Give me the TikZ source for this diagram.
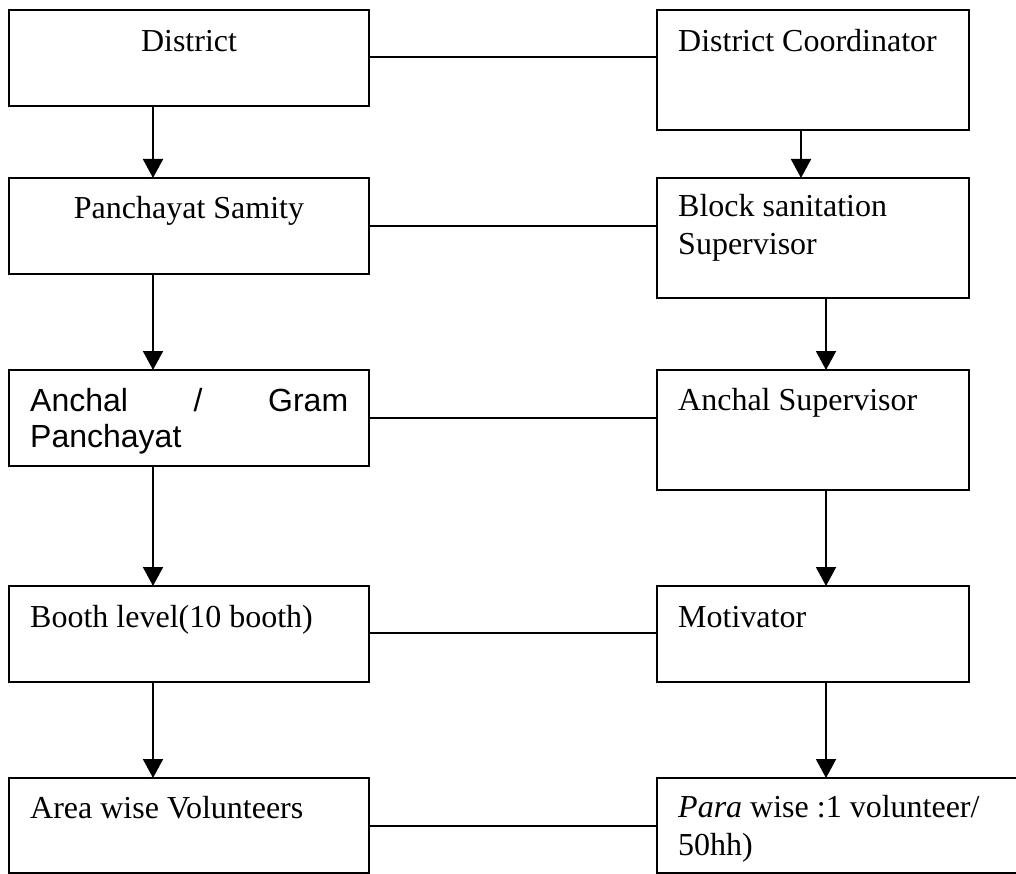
\documentclass[tikz,border=0pt]{standalone}
\usepackage{fontspec}
\setmainfont{Liberation Serif}
\newfontfamily\arialfont{Liberation Sans}
\usetikzlibrary{arrows.meta}
\begin{document}
\begin{tikzpicture}[x=1pt,y=-1pt,
  box/.style={draw,line width=2pt,rectangle,inner sep=0pt,outer sep=0pt,anchor=north west},
  lbl/.style={inner sep=0pt,anchor=base west,font=\fontsize{32}{38}\selectfont,align=left},
  link/.style={line width=2pt},
  arr/.style={line width=2pt,-{Triangle[width=20pt,length=19pt]}}]
\useasboundingbox (0,0) rectangle (1016,874);
\clip (0,0) rectangle (1016,874);
% boxes
\node[box,minimum width=360pt,minimum height=96pt]  (L1) at (9,10) {};
\node[box,minimum width=312pt,minimum height=120pt] (R1) at (657,10) {};
\node[box,minimum width=360pt,minimum height=96pt]  (L2) at (9,178) {};
\node[box,minimum width=312pt,minimum height=120pt] (R2) at (657,178) {};
\node[box,minimum width=360pt,minimum height=96pt]  (L3) at (9,370) {};
\node[box,minimum width=312pt,minimum height=120pt] (R3) at (657,370) {};
\node[box,minimum width=360pt,minimum height=96pt]  (L4) at (9,586) {};
\node[box,minimum width=312pt,minimum height=96pt]  (R4) at (657,586) {};
\node[box,minimum width=360pt,minimum height=95pt]  (L5) at (9,778) {};
\node[box,minimum width=380pt,minimum height=95pt]  (R5) at (657,778) {};
% texts (multi-line nodes are placed at the baseline of their last line)
\node[lbl,anchor=base] (tL1) at (189,52) {District};
\node[lbl] (tR1) at (678,52) {District Coordinator};
\node[lbl,anchor=base] (tL2) at (189,219) {Panchayat Samity};
\node[lbl] (tR2) at (678,255) {Block sanitation\\Supervisor};
\node[lbl,font=\arialfont\fontsize{32}{36}\selectfont] (tL3) at (30,447) {\hbox to 318pt{Anchal\hfill/\hfill Gram}\\Panchayat};
\node[lbl] (tR3) at (678,410) {Anchal Supervisor};
\node[lbl] (tL4) at (30,627) {Booth level(10 booth)};
\node[lbl] (tR4) at (678,627) {Motivator};
\node[lbl] (tL5) at (30,818) {Area wise Volunteers};
\node[lbl] (tR5) at (678,855) {\textit{Para} wise :1 volunteer/\\50hh)};
% horizontal links
\draw[link] (L1.east |- 0,57)  -- (R1.west |- 0,57);
\draw[link] (L2.east |- 0,226) -- (R2.west |- 0,226);
\draw[link] (L3.east |- 0,418) -- (R3.west |- 0,418);
\draw[link] (L4.east |- 0,633) -- (R4.west |- 0,633);
\draw[link] (L5.east |- 0,826) -- (R5.west |- 0,826);
% vertical arrows
\draw[arr] (L1.south -| 153,0) -- (L2.north -| 153,0);
\draw[arr] (L2.south -| 153,0) -- (L3.north -| 153,0);
\draw[arr] (L3.south -| 153,0) -- (L4.north -| 153,0);
\draw[arr] (L4.south -| 153,0) -- (L5.north -| 153,0);
\draw[arr] (R1.south -| 801,0) -- (R2.north -| 801,0);
\draw[arr] (R2.south -| 826,0) -- (R3.north -| 826,0);
\draw[arr] (R3.south -| 826,0) -- (R4.north -| 826,0);
\draw[arr] (R4.south -| 826,0) -- (R5.north -| 826,0);
\end{tikzpicture}
\end{document}
